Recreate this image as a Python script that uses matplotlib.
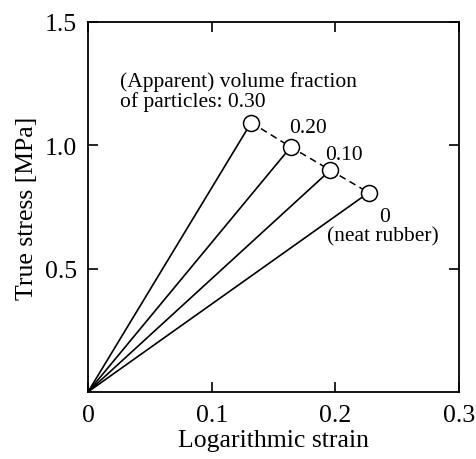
import matplotlib
matplotlib.use('Agg')
import matplotlib.pyplot as plt

# fracture points for each apparent volume fraction
fractions = ['0.30', '0.20', '0.10', '0']
strain = [0.132, 0.164, 0.196, 0.227]
stress = [1.092, 0.993, 0.899, 0.808]

x_ticks = [0, 0.1, 0.2, 0.3]
x_ticklabels = ['0', '0.1', '0.2', '0.3']
y_ticks = [0.5, 1.0, 1.5]
y_ticklabels = ['0.5', '1.0', '1.5']

plt.rcParams['font.family'] = ['Liberation Serif', 'DejaVu Serif']

fig = plt.figure(figsize=(4.76, 4.6), dpi=100)
ax = fig.add_axes([0.185, 0.146, 0.779, 0.804])

for x, y in zip(strain, stress):
    ax.plot([0, x], [0, y], color='black', linewidth=1.2)
ax.plot(strain, stress, color='black', linewidth=1.1, linestyle=(0, (4.5, 3)))
ax.plot(strain, stress, linestyle='none', marker='o', markersize=11.5,
        markerfacecolor='white', markeredgecolor='black', markeredgewidth=1.1)

fs = 15.5
ax.text(0.0258, 1.240, '(Apparent) volume fraction', fontsize=fs, va='baseline', ha='left')
ax.text(0.0258, 1.159, 'of particles: ' + fractions[0], fontsize=fs, va='baseline', ha='left')
ax.text(0.1625, 1.054, fractions[1], fontsize=fs, va='baseline', ha='left')
ax.text(0.1916, 0.946, fractions[2], fontsize=fs, va='baseline', ha='left')
ax.text(0.240, 0.6935, fractions[3], fontsize=fs, va='baseline', ha='center')
ax.text(0.2386, 0.6126, '(neat rubber)', fontsize=fs, va='baseline', ha='center')

ax.set_xlim(0, 0.3)
ax.set_ylim(0, 1.5)
ax.set_xticks(x_ticks)
ax.set_xticklabels(x_ticklabels)
ax.set_yticks(y_ticks)
ax.set_yticklabels(y_ticklabels)
ax.tick_params(direction='in', length=7, width=1.2, top=True, right=True,
               labelsize=18.5)
ax.tick_params(axis='x', pad=9)
ax.tick_params(axis='y', pad=8)
for s in ax.spines.values():
    s.set_linewidth(1.3)

ax.set_xlabel('Logarithmic strain', fontsize=18.5, labelpad=2)
ax.set_ylabel('True stress [MPa]', fontsize=18.5, labelpad=5)

fig.savefig('out.png', dpi=100)
